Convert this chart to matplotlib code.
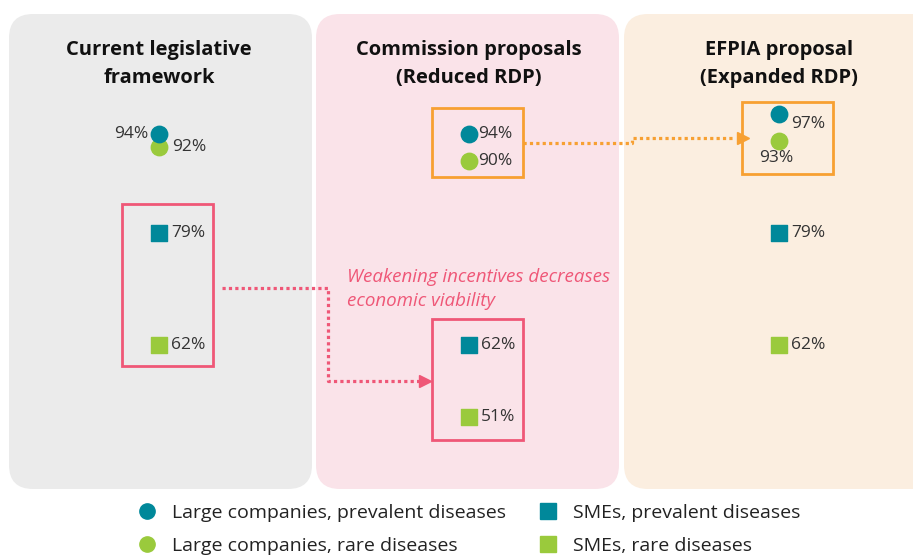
import matplotlib.pyplot as plt
import matplotlib.transforms as mtransforms
from matplotlib.patches import FancyBboxPatch, Rectangle
from matplotlib.lines import Line2D

plt.rcParams['font.family'] = ['Open Sans', 'DejaVu Sans']

# ---------------- data ----------------
frameworks = ['Current legislative\nframework',
              'Commission proposals\n(Reduced RDP)',
              'EFPIA proposal\n(Expanded RDP)']
large_prevalent = [94, 94, 97]
large_rare = [92, 90, 93]
sme_prevalent = [79, 62, 79]
sme_rare = [62, 51, 62]
series_names = ['Large companies, prevalent diseases', 'Large companies, rare diseases',
                'SMEs, prevalent diseases', 'SMEs, rare diseases']
note = 'Weakening incentives decreases\neconomic viability'

teal = '#00889a'
green = '#9aca3c'
orange = '#f7a032'
rose = '#ef5777'
panel_cols = ['#ebebeb', '#fae3e9', '#fbeee0']

fig = plt.figure(figsize=(9.13, 5.58), dpi=100)

# background axes in pixel units
bg = fig.add_axes([0, 0, 1, 1])
bg.set_xlim(0, 913)
bg.set_ylim(558, 0)
bg.axis('off')

panel_x = [9, 316, 624]
panel_w = [303, 303, 330]
for x0, w, c in zip(panel_x, panel_w, panel_cols):
    bg.add_patch(FancyBboxPatch((x0, 14), w, 475, boxstyle='round,pad=0,rounding_size=24',
                                fc=c, ec='none'))

# data axes: x = framework index, y = percent
ax = fig.add_axes([0, 0, 1, 1])
ax.patch.set_alpha(0)
ax.set_xlim(-159 / 310, 754 / 310)
ax.set_ylim(62 - 213 / 6.588, 62 + 345 / 6.588)
ax.axis('off')

xs = range(len(frameworks))
title_tr = mtransforms.blended_transform_factory(ax.transData, bg.transData)
for i, t in enumerate(frameworks):
    ax.text(i, 64, t, transform=title_tr, ha='center', va='center', fontsize=14.5,
            fontweight='bold', color='#111111', linespacing=1.5)

ms = 140
ax.scatter(xs, large_prevalent, s=ms, marker='o', color=teal, zorder=5)
ax.scatter(xs, large_rare, s=ms, marker='o', color=green, zorder=4)
ax.scatter(xs, sme_prevalent, s=ms, marker='s', color=teal, zorder=5)
ax.scatter(xs, sme_rare, s=ms, marker='s', color=green, zorder=5)

lab = dict(fontsize=12.5, color='#333333', va='center')
for i in xs:
    if i == 0:
        ax.annotate(f'{large_prevalent[i]}%', (i, large_prevalent[i]), xytext=(-11, 0),
                    textcoords='offset pixels', ha='right', **lab)
        ax.annotate(f'{large_rare[i]}%', (i, large_rare[i]), xytext=(13, 0),
                    textcoords='offset pixels', ha='left', **lab)
    elif i == 1:
        ax.annotate(f'{large_prevalent[i]}%', (i, large_prevalent[i]), xytext=(9, 0),
                    textcoords='offset pixels', ha='left', **lab)
        ax.annotate(f'{large_rare[i]}%', (i, large_rare[i]), xytext=(9, 0),
                    textcoords='offset pixels', ha='left', **lab)
    else:
        ax.annotate(f'{large_prevalent[i]}%', (i, large_prevalent[i]), xytext=(12, -10),
                    textcoords='offset pixels', ha='left', **lab)
        ax.annotate(f'{large_rare[i]}%', (i, large_rare[i]), xytext=(-3, -17),
                    textcoords='offset pixels', ha='center', **lab)
    ax.annotate(f'{sme_prevalent[i]}%', (i, sme_prevalent[i]), xytext=(12, 0),
                textcoords='offset pixels', ha='left', **lab)
    ax.annotate(f'{sme_rare[i]}%', (i, sme_rare[i]), xytext=(12, 0),
                textcoords='offset pixels', ha='left', **lab)

# highlight boxes (panel, low value, high value, colour)
boxes = [(0, sme_rare[0] - 3.2, sme_prevalent[0] + 4.4, rose),
         (1, sme_rare[1] - 3.4, sme_prevalent[1] + 4.0, rose),
         (1, large_rare[1] - 2.5, large_prevalent[1] + 4.0, orange),
         (2, large_rare[2] - 5.0, large_prevalent[2] + 1.9, orange)]
for i, lo, hi, c in boxes:
    ax.add_patch(Rectangle((i - 0.12, lo), 0.293, hi - lo, fill=False, ec=c, lw=2, zorder=6))

# dotted connectors
ax.plot([1.174, 1.526, 1.526, 1.855], [92.66, 92.66, 93.42, 93.42], color=orange, lw=2.3,
        ls=(0, (1, 1)), zorder=6)
ax.plot([1.885], [93.42], marker='>', color=orange, ms=9, zorder=7)
ax.plot([0.203, 0.545, 0.545, 0.85], [70.65, 70.65, 56.54, 56.54], color=rose, lw=2.3,
        ls=(0, (1, 1)), zorder=6)
ax.plot([0.858], [56.54], marker='>', color=rose, ms=9, zorder=7)

ax.text(0.606, 73.7, note, ha='left', va='top', fontsize=13.5, style='italic', color=rose,
        linespacing=1.45)

handles = [Line2D([], [], ls='none', marker='o', color=teal, ms=11),
           Line2D([], [], ls='none', marker='o', color=green, ms=11),
           Line2D([], [], ls='none', marker='s', color=teal, ms=11),
           Line2D([], [], ls='none', marker='s', color=green, ms=11)]
bg.legend(handles, series_names, ncol=2, loc='upper left', bbox_to_anchor=(137, 504),
          bbox_transform=bg.transData, frameon=False, fontsize=14, borderpad=0,
          borderaxespad=0, handlelength=1, handletextpad=0.79, columnspacing=1.65,
          labelspacing=0.78, labelcolor='#222222')

fig.savefig('out.png', dpi=100)
